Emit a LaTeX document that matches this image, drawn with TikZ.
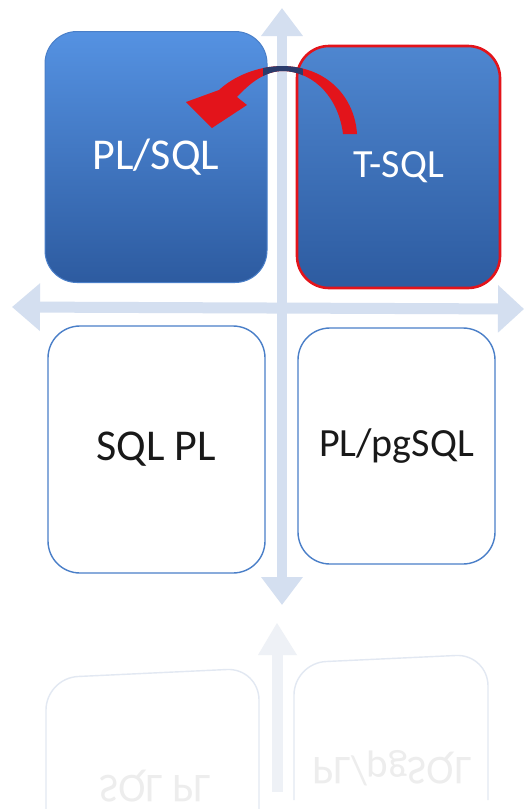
\documentclass[tikz,border=0pt]{standalone}
\usepackage{fontspec}
\setmainfont{Carlito}
\usetikzlibrary{arrows.meta,fadings}
\definecolor{axisc}{HTML}{D4DFF0}
\definecolor{bluetop}{HTML}{5592E2}
\definecolor{bluebot}{HTML}{2D5BA0}
\definecolor{blueedge}{HTML}{4A7FC8}
\definecolor{redc}{HTML}{E3141B}
\definecolor{navyc}{HTML}{2B3C6C}
\definecolor{reflline}{HTML}{E2E8F2}
\definecolor{refltxt}{HTML}{EDEDED}
\definecolor{reflaxis}{HTML}{EEF1F6}
\tikzset{
  bigfont/.style={font=\fontsize{44}{52}\selectfont},
  boxfont/.style={font=\fontsize{40}{48}\selectfont},
  quad/.style={rectangle, rounded corners=32pt, inner sep=0pt},
  bluebox/.style={quad, top color=bluetop, bottom color=bluebot, draw=blueedge, line width=1pt, text=white},
  redbox/.style={quad, top color=bluetop!92!black, bottom color=bluebot, draw=redc, line width=2.6pt, text=white},
  whitebox/.style={quad, fill=white, draw=blueedge, line width=1.4pt, text=black!90},
  axisline/.style={draw=axisc, line width=10pt, {Triangle[width=40pt,length=28pt]}-{Triangle[width=40pt,length=28pt]}},
  haxisline/.style={draw=axisc, line width=11pt, {Triangle[width=46pt,length=28pt]}-{Triangle[width=46pt,length=26pt]}},
  refltext/.style={font=\fontsize{41}{48}\selectfont, text=refltxt, yscale=-1},
  reflbox/.style={draw=reflline, line width=1.4pt, rounded corners=32pt},
}
\begin{document}
\begin{tikzpicture}[x=1pt,y=-1pt]
\useasboundingbox (0,0) rectangle (526,809);
\fill[white] (0,0) rectangle (526,809);

% axes
\coordinate (hl) at (12,307);
\coordinate (hr) at (524,309);
\coordinate (vtop) at (282,8);
\coordinate (vbot) at (282,605);
\draw[haxisline] (hl) -- (hr);
\draw[axisline] (vtop) -- (vbot);

% quadrants
\node[bluebox, bigfont, minimum width=222pt, minimum height=251pt] (plsql) at (156,157) {PL/SQL};
\node[redbox, boxfont, minimum width=203pt, minimum height=242pt] (tsql) at (398.5,167) {T-SQL};
\node[whitebox, bigfont, minimum width=217pt, minimum height=247pt] (sqlpl) at (156.5,449.5) {SQL PL};
\node[whitebox, boxfont, minimum width=197pt, minimum height=236pt] (pgsql) at (396.5,446) {PL/pgSQL};

% curved red arrow from T-SQL to PL/SQL
\def\redarrow{(357,134) .. controls (355,100) and (330,67) .. (283,66)
  .. controls (258,66) and (234,76) .. (219,90) -- (186,102) -- (212,128)
  -- (247,105) -- (237,97) .. controls (250,83) and (265,71) .. (283,71)
  .. controls (316,72) and (339,100) .. (343,134) -- cycle}
\fill[redc] \redarrow;
\begin{scope}
  \clip \redarrow;
  \fill[navyc] (263,55) rectangle (303,140);
\end{scope}

% reflection
\fill[reflaxis] (277,623) -- (297,655) -- (258,655) -- cycle;
\fill[reflaxis] (272,655) rectangle (283,792);
\draw[reflbox] (46,809) -- (46,678) -- (259,668) -- (259,809);
\draw[reflbox] (294,800) -- (294,663) -- (488,654) -- (488,800);
\node[refltext] (rsqlpl) at (155,786) {SQL PL};
\node[refltext] (rpgsql) at (392,768) {PL/pgSQL};
\end{tikzpicture}
\end{document}
